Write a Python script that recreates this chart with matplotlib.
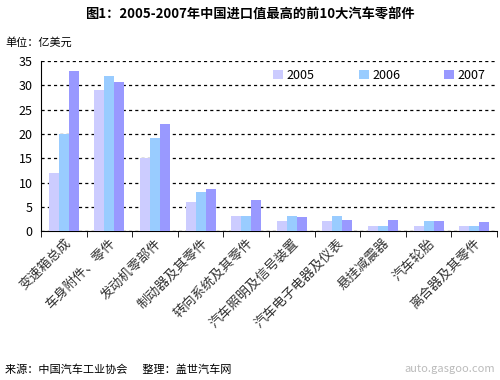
import numpy as np
import matplotlib.pyplot as plt

plt.rcParams['font.family'] = ['Noto Sans CJK SC', 'DejaVu Sans']

categories = ["变速箱总成", "车身附件、零件", "发动机零部件", "制动器及其零件", "转向系统及其零件",
              "汽车照明及信号装置", "汽车电子电器及仪表", "悬挂减震器", "汽车轮胎", "离合器及其零件"]
years = ["2005", "2006", "2007"]
v2005 = [12, 29, 15, 6, 3, 2.1, 2.1, 1, 1, 1]
v2006 = [20, 32, 19.1, 8, 3, 3, 3, 1, 2.1, 1]
v2007 = [33, 30.7, 22, 8.6, 6.4, 2.9, 2.3, 2.3, 2.1, 1.8]
COLORS = ["#CCCCFF", "#99CCFF", "#9999FF"]

fig = plt.figure(figsize=(5, 3.8), dpi=100)
ax = fig.add_axes([0.082, 0.392, 0.912, 0.447])

x = np.arange(len(categories))
w = 0.22
for i, vals in enumerate([v2005, v2006, v2007]):
    ax.bar(x + (i - 1) * w, vals, width=w, color=COLORS[i], label=years[i], zorder=3)

ax.set_xlim(-0.5, len(categories) - 0.5)
ax.set_ylim(0, 35)
ax.set_yticks(range(0, 36, 5))
ax.yaxis.grid(True, linestyle=(0, (2.5, 2.5)), color="black", linewidth=0.9, zorder=0)
ax.tick_params(axis="y", length=0, labelsize=9, pad=6)
ax.set_xticks(x)
ax.set_xticklabels(categories, rotation=45, ha="right", rotation_mode="anchor", fontsize=9.5,
                   color="#333333")
ax.tick_params(axis="x", which="major", length=0, pad=4)
ax.set_xticks(np.arange(-0.5, len(categories), 1), minor=True)
ax.tick_params(axis="x", which="minor", length=4, direction="out")
for s in ["top", "right"]:
    ax.spines[s].set_visible(False)

ax.legend(loc="upper right", bbox_to_anchor=(1.0, 1.02), ncol=3, frameon=False, fontsize=9,
          handlelength=0.8, handleheight=0.8, handletextpad=0.3, columnspacing=3.5)

fig.text(0.5, 0.962, "图1：2005-2007年中国进口值最高的前10大汽车零部件", ha="center", va="center",
         fontsize=9.5, fontweight="bold")
fig.text(0.01, 0.887, "单位：亿美元", ha="left", va="center", fontsize=8)
fig.text(0.01, 0.028, "来源：中国汽车工业协会      整理：盖世汽车网", ha="left", va="center", fontsize=8)
fig.text(0.99, 0.028, "auto.gasgoo.com", ha="right", va="center", fontsize=8, color="#bbbbbb")

fig.savefig("out.png", dpi=100)
